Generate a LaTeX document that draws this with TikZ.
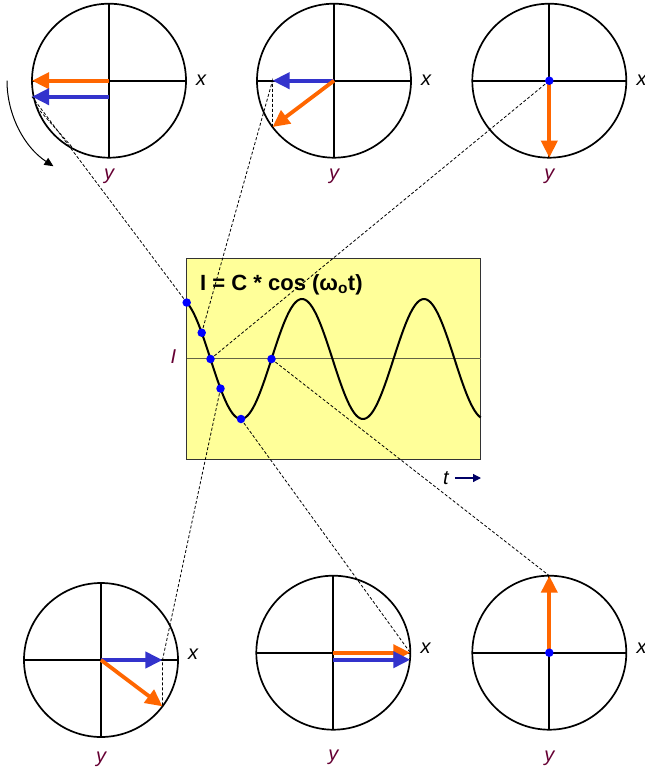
\documentclass[tikz,border=0pt]{standalone}
\usepackage{fontspec}
\setmainfont{Liberation Sans}
\usetikzlibrary{positioning,arrows.meta,calc}
\definecolor{PhasorOrange}{RGB}{255,102,0}
\definecolor{PhasorBlue}{RGB}{51,51,204}
\definecolor{AxisPurple}{RGB}{102,0,51}
\definecolor{PlotYellow}{RGB}{255,255,153}
\definecolor{AxisOlive}{RGB}{100,100,70}
\definecolor{TimeNavy}{RGB}{0,0,102}

\begin{document}
\begin{tikzpicture}[
    x=1pt, y=-1pt,
    declare function={wave(\t)=359-60*cos((\t-180)*2.95082);},
    dial/.style={circle, draw, line width=1.7pt, minimum size=154pt, inner sep=0pt, outer sep=0pt},
    cross/.style={line width=1.8pt},
    xlab/.style={font=\fontsize{20}{24}\selectfont\itshape, inner sep=0pt},
    ylab/.style={font=\fontsize{20}{24}\selectfont\itshape, text=AxisPurple, inner sep=0pt},
    orangevec/.style={draw=PhasorOrange, line width=3.8pt, -{Triangle[length=17pt,width=16pt]}},
    bluevec/.style={draw=PhasorBlue, line width=3.8pt, -{Triangle[length=17pt,width=16pt]}},
    guide/.style={dash pattern=on 3pt off 2pt, line width=0.8pt},
    dot/.style={circle, fill=blue, minimum size=8.5pt, inner sep=0pt},
]
\useasboundingbox (0,0) rectangle (645,771);

% plot area
\node[draw=black!80, line width=0.8pt, fill=PlotYellow, minimum width=294pt, minimum height=200.7pt,
    inner sep=0pt, outer sep=0pt, anchor=north west] (plotbox) at (186.7,258.3) {};
\draw[AxisOlive, line width=1.3pt] (plotbox.west) -- (plotbox.east);
\node[anchor=base west, font=\fontsize{22}{26}\selectfont\bfseries] (formula) at (196.7,290) {I = C * cos (ω\textsubscript{o}t)};
\node[ylab] (ilab) at (173.3,357) {I};
\node[xlab] (tlab) at (446,478) {t};
\coordinate (tend) at (481,478);
\draw[TimeNavy, line width=1.2pt, -{Triangle[length=8pt,width=8pt]}] ([xshift=6pt]tlab.east) -- (tend);

% dials
\node[dial] (c1) at (109,80.7) {};
\node[dial] (c2) at (334,80.7) {};
\node[dial] (c3) at (549.3,80.7) {};
\node[dial] (c4) at (101,660) {};
\node[dial] (c5) at (333.3,652.7) {};
\node[dial] (c6) at (549.3,652.7) {};
\draw[cross] (c1.west) -- (c1.east) (c1.north) -- (c1.south);
\draw[cross] (c2.west) -- (c2.east) (c2.north) -- (c2.south);
\draw[cross] (c3.west) -- (c3.east) (c3.north) -- (c3.south);
\draw[cross] (c4.west) -- (c4.east) (c4.north) -- (c4.south);
\draw[cross] (c5.west) -- (c5.east) (c5.north) -- (c5.south);
\draw[cross] (c6.west) -- (c6.east) (c6.north) -- (c6.south);

\node[xlab, right=10pt of c1.east] (x1) {x};
\node[xlab, right=10pt of c2.east] (x2) {x};
\node[xlab, right=10pt of c3.east] (x3) {x};
\node[xlab, right=10pt of c4.east, yshift=6pt] (x4) {x};
\node[xlab, right=10pt of c5.east, yshift=4pt] (x5) {x};
\node[xlab, right=10pt of c6.east, yshift=4pt] (x6) {x};
\node[ylab, below=11pt of c1.south] (y1) {y};
\node[ylab, below=11pt of c2.south] (y2) {y};
\node[ylab, below=11pt of c3.south] (y3) {y};
\node[ylab, below=15pt of c4.south] (y4) {y};
\node[ylab, below=20pt of c5.south] (y5) {y};
\node[ylab, below=21pt of c6.south] (y6) {y};

% points on the wave and vector tips
\coordinate (p1) at (186.7,{wave(186.7)});
\coordinate (p2) at (201.7,{wave(201.7)});
\coordinate (p3) at (210.5,{wave(210.5)});
\coordinate (p4) at (220.5,{wave(220.5)});
\coordinate (p5) at (241,{wave(241)});
\coordinate (p6) at (271.5,{wave(271.5)});
\coordinate (b1) at ([yshift=-16pt]c1.west);
\coordinate (b2) at (c2.217 |- c2.center);
\coordinate (b4) at (c4.323 |- c4.center);

\draw[guide] (p1) -- (b1);
\draw[guide] (c1.200) -- (c1.243);
\draw[guide] (p2) -- (b2) -- (c2.217);
\draw[guide] (p3) -- (c3.center);
\draw[guide] (p4) -- (b4) -- (c4.323);
\draw[guide] (p5) -- (c5.east);
\draw[guide] (p6) -- (c6.north);

\draw[line width=2pt] plot[domain=186.7:480.7, samples=200, smooth] (\x,{wave(\x)});

% rotating vectors
\draw[orangevec] (c1.center) -- (c1.west);
\draw[bluevec] ([yshift=-16pt]c1.center) -- (b1);
\draw[bluevec] (c2.center) -- (b2);
\draw[orangevec] (c2.center) -- (c2.217);
\draw[orangevec] (c3.center) -- (c3.south);
\draw[bluevec] (c4.center) -- (b4);
\draw[orangevec] (c4.center) -- (c4.323);
\draw[orangevec] (c5.center) -- (c5.east);
\draw[bluevec] ([yshift=-7pt]c5.center) -- ([yshift=-7pt]c5.east);
\draw[orangevec] (c6.center) -- (c6.north);

\node[dot] (d1) at (p1) {};
\node[dot] (d2) at (p2) {};
\node[dot] (d3) at (p3) {};
\node[dot] (d4) at (p4) {};
\node[dot] (d5) at (p5) {};
\node[dot] (d6) at (p6) {};
\node[dot] (d7) at (c3.center) {};
\node[dot] (d8) at (c6.center) {};

\draw[line width=1pt, -{Triangle[length=9pt,width=8pt]}] (c1.center) ++(180:102) arc[start angle=180, end angle=123, radius=102];
\end{tikzpicture}
\end{document}
